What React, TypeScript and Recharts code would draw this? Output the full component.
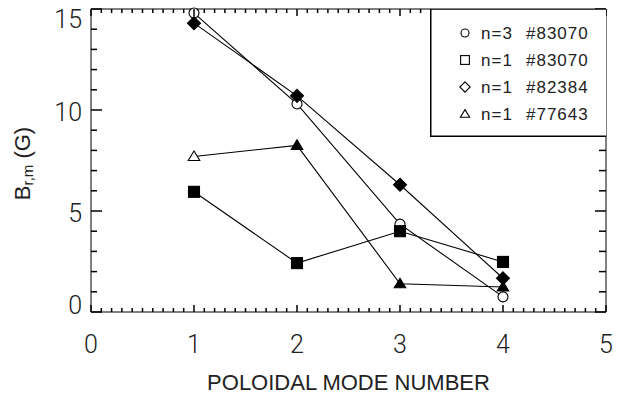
import React from 'react';
import { ComposedChart, Legend, Line, XAxis, YAxis } from 'recharts';

// poloidal mode number m on the x axis, B_r,m in gauss on the y axis
const modes = [1, 2, 3, 4];
const n3Shot83070 = [14.8, 10.3, 4.35, 0.75];
const n1Shot83070 = [5.95, 2.42, 4.0, 2.48];
const n1Shot82384 = [14.3, 10.7, 6.3, 1.67];
const n1Shot77643 = [7.7, 8.25, 1.4, 1.24];

const toroidalLabels = ['n=3', 'n=1', 'n=1', 'n=1'];
const shotLabels = ['#83070', '#83070', '#82384', '#77643'];

const xTicks = [0, 1, 2, 3, 4, 5];
const yTicks = [0, 5, 10, 15];
const xMinorTicks = Array.from({ length: 51 }, (_, i) => i / 10);
const yMinorTicks = Array.from({ length: 16 }, (_, i) => i);

const FONT = '"Liberation Sans", Arial, sans-serif';
const TICK_FONT = 'Roboto, "Liberation Sans", sans-serif';

// plot frame, fixed by the margins below
const PLOT = { left: 91, right: 606, top: 9, bottom: 312 };

type Shape = 'circle' | 'square' | 'diamond' | 'triangle';
const shapes: Shape[] = ['circle', 'square', 'diamond', 'triangle'];
const seriesNames = toroidalLabels.map((t, i) => `${t}|${shotLabels[i]}`);

const seriesValues = [n3Shot83070, n1Shot83070, n1Shot82384, n1Shot77643];
// one row per mode number, one column per series
const rows = modes.map((m, i) => ({ m, s0: n3Shot83070[i], s1: n1Shot83070[i], s2: n1Shot82384[i], s3: n1Shot77643[i] }));

const isFilled = [
  () => false,
  () => true,
  () => true,
  // first point of #77643 is drawn hollow in the original
  (i: number) => i > 0,
];

const isIn = (v: number, list: number[]) => list.some((t) => Math.abs(t - v) < 1e-6);

function Marker({ shape, cx, cy, filled, scale = 1 }: { shape: Shape; cx: number; cy: number; filled: boolean; scale?: number }) {
  const fill = filled ? '#000' : '#fff';
  const common = { fill, stroke: '#000', strokeWidth: 1.1 };
  if (shape === 'circle') return <circle cx={cx} cy={cy} r={5 * scale} {...common} />;
  if (shape === 'square') {
    const s = 11 * scale;
    return <rect x={cx - s / 2} y={cy - s / 2} width={s} height={s} {...common} />;
  }
  if (shape === 'diamond') {
    const r = 6.5 * scale;
    return <polygon points={`${cx},${cy - r} ${cx + r},${cy} ${cx},${cy + r} ${cx - r},${cy}`} {...common} />;
  }
  const hw = 5.8 * scale;
  return (
    <polygon
      points={`${cx},${cy - 5.5 * scale} ${cx + hw},${cy + 4 * scale} ${cx - hw},${cy + 4 * scale}`}
      {...common}
    />
  );
}

const BottomTick = (props: any) => {
  const { x, payload } = props;
  const major = isIn(payload.value, xTicks);
  const y = PLOT.bottom;
  return (
    <g>
      <line x1={x} y1={y} x2={x} y2={y - (major ? 7 : 4)} stroke="#000" strokeWidth={1.5} />
      {major && (
        <text x={x} y={y + 32} textAnchor="middle" dominantBaseline="central" fontFamily={TICK_FONT} fontWeight={300} fontSize={25} fill="#222">
          {payload.value}
        </text>
      )}
    </g>
  );
};

const TopTick = (props: any) => {
  const { x, payload } = props;
  const major = isIn(payload.value, xTicks);
  const y = PLOT.top;
  return (
    <g>
      <line x1={x} y1={y} x2={x} y2={y + (major ? 7 : 4)} stroke="#000" strokeWidth={1.5} />
    </g>
  );
};

const LeftTick = (props: any) => {
  const { y, payload } = props;
  const major = isIn(payload.value, yTicks);
  const x = PLOT.left;
  // labels are kept inside the frame height, like the original plot
  const ly = Math.min(Math.max(y + 2, PLOT.top + 10), PLOT.bottom - 7);
  return (
    <g>
      <line x1={x} y1={y} x2={x + (major ? 11 : 6)} y2={y} stroke="#000" strokeWidth={1.5} />
      {major && (
        <text x={x - 9} y={ly} textAnchor="end" dominantBaseline="central" fontFamily={TICK_FONT} fontWeight={300} fontSize={25} fill="#222">
          {payload.value}
        </text>
      )}
    </g>
  );
};

const RightTick = (props: any) => {
  const { y, payload } = props;
  const major = isIn(payload.value, yTicks);
  const x = PLOT.right;
  return (
    <g>
      <line x1={x} y1={y} x2={x - (major ? 11 : 7)} y2={y} stroke="#000" strokeWidth={1.5} />
    </g>
  );
};

const YLabel = () => {
  const cx = 22;
  const cy = (PLOT.top + PLOT.bottom) / 2 + 3;
  return (
    <text x={cx} y={cy} transform={`rotate(-90 ${cx} ${cy})`} textAnchor="middle" dominantBaseline="central" fontFamily={FONT} fontSize={22} fill="#222">
      B
      <tspan fontSize={15} dy={5}>r,m</tspan>
      <tspan dy={-5}> (G)</tspan>
    </text>
  );
};

const XLabel = () => (
  <text x={(PLOT.left + PLOT.right) / 2} y={PLOT.bottom + 70} textAnchor="middle" dominantBaseline="central" fontFamily={FONT} fontSize={22} fill="#222">
    POLOIDAL MODE NUMBER
  </text>
);

const LegendBox = (props: any) => {
  const items = [...(props.payload || [])]
    .filter((it: any) => seriesNames.includes(String(it.value)))
    .sort((a: any, b: any) => seriesNames.indexOf(String(a.value)) - seriesNames.indexOf(String(b.value)));
  return (
    <svg width={176} height={128} style={{ display: 'block' }}>
      <rect x={0.75} y={0} width={176} height={127.25} fill="#fff" stroke="#000" strokeWidth={1.5} />
      {items.map((item: any) => {
        const i = seriesNames.indexOf(String(item.value));
        const [tor, shot] = String(item.value).split('|');
        const cy = 24 + i * 27;
        return (
          <g key={String(item.value)}>
            <Marker shape={shapes[i]} cx={35} cy={cy} filled={false} scale={0.8} />
            <text x={51} y={cy} dominantBaseline="central" fontFamily={FONT} fontSize={17} letterSpacing={1} fill="#222">
              {tor}
            </text>
            <text x={96} y={cy} dominantBaseline="central" fontFamily={FONT} fontSize={17} letterSpacing={1} fill="#222">
              {shot}
            </text>
          </g>
        );
      })}
    </svg>
  );
};

const hiddenTickLine = { stroke: 'none' };

export default function App() {
  return (
    <div style={{ position: 'absolute', left: 0, top: 0, width: 618, height: 398, background: '#fff' }}>
      <ComposedChart width={618} height={398} margin={{ top: 8, right: 11, bottom: 0, left: 0 }} data={rows}>
        <XAxis
          dataKey="m"
          type="number"
          domain={[0, 5]}
          ticks={xMinorTicks}
          interval={0}
          height={86}
          tickLine={hiddenTickLine}
          tick={<BottomTick />}
          stroke="#000"
          label={<XLabel />}
        />
        <XAxis
          xAxisId="top"
          orientation="top"
          dataKey="m"
          type="number"
          domain={[0, 5]}
          ticks={xMinorTicks}
          interval={0}
          height={1}
          tickLine={hiddenTickLine}
          tick={<TopTick />}
          stroke="#000"
        />
        <YAxis
          type="number"
          domain={[0, 15]}
          ticks={yMinorTicks}
          interval={0}
          width={91}
          tickLine={hiddenTickLine}
          tick={<LeftTick />}
          stroke="#000"
          label={<YLabel />}
        />
        <YAxis
          yAxisId="right"
          orientation="right"
          type="number"
          domain={[0, 15]}
          ticks={yMinorTicks}
          interval={0}
          width={1}
          tickLine={hiddenTickLine}
          tick={<RightTick />}
          stroke="#000"
        />
        <Legend
          layout="vertical"
          align="center"
          verticalAlign="middle"
          content={<LegendBox />}
          wrapperStyle={{ position: 'absolute', left: 430, top: 9, width: 176, height: 128 }}
        />
        {seriesValues.map((_, k) => (
          <Line
            key={k}
            dataKey={`s${k}`}
            name={seriesNames[k]}
            stroke="#000"
            strokeWidth={1.1}
            isAnimationActive={false}
            activeDot={false}
            dot={(p: any) => (
              <Marker key={`m-${k}-${p.index}`} shape={shapes[k]} cx={p.cx} cy={p.cy} filled={isFilled[k](p.index)} />
            )}
          />
        ))}
        {/* invisible twin so the top and right frame axes get a domain and render */}
        <Line
          xAxisId="top"
          yAxisId="right"
          dataKey="s0"
          stroke="none"
          dot={false}
          activeDot={false}
          legendType="none"
          isAnimationActive={false}
        />
      </ComposedChart>
    </div>
  );
}
